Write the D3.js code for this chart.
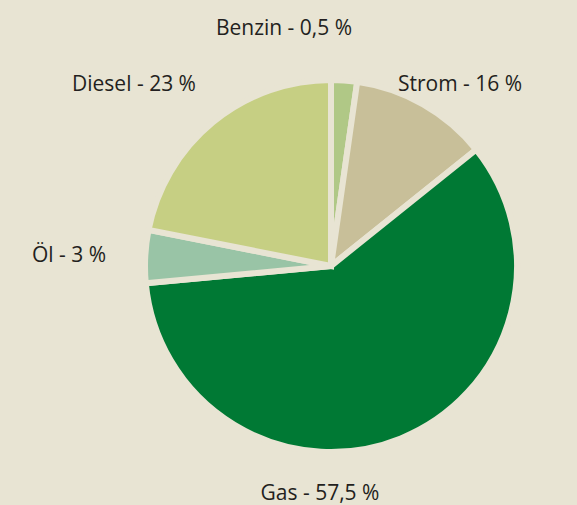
<!DOCTYPE html>
<html lang="de">
<head>
<meta charset="UTF-8">
<title>Energieträger</title>
<script src="https://cdn.jsdelivr.net/npm/d3@7/dist/d3.min.js"></script>
<style>
  html, body { margin: 0; padding: 0; background: #e8e4d3; }
</style>
</head>
<body>
<script>
    // Anteile wie gezeichnet (Grad-Anteile aus der Vorlage), Beschriftung separat
    const names = ["Benzin", "Strom", "Gas", "Öl", "Diesel"];
    const shares = [2.25, 12.0, 59.3, 4.6, 21.9];
    const labels = ["Benzin - 0,5 %", "Strom - 16 %", "Gas - 57,5 %", "Öl - 3 %", "Diesel - 23 %"];
    const colors = ["#b0c886", "#c8bf99", "#007934", "#99c4a6", "#c6cf83"];

    const width = 577, height = 505;
    const bg = "#e8e4d3";
    const cx = 331, cy = 266, radius = 183, gap = 6;
    // Position der Beschriftungen (Textmitte, Grundlinie)
    const labelPos = [[284, 35], [460, 91], [320, 500], [69, 262], [134, 91]];

    const svg = d3.select("body").append("svg")
        .attr("width", width)
        .attr("height", height)
        .style("display", "block")
        .style("font-family", "'Open Sans', sans-serif");

    svg.append("rect").attr("width", width).attr("height", height).attr("fill", bg);

    const pie = d3.pie().sort(null).value(d => d);
    // Kontur in Hintergrundfarbe = Spalt; Radius um halbe Konturbreite vergrößert
    const arc = d3.arc().innerRadius(0).outerRadius(radius + gap / 2);

    const g = svg.append("g").attr("transform", `translate(${cx},${cy})`);

    g.selectAll("path")
        .data(pie(shares))
        .join("path")
        .attr("d", arc)
        .attr("fill", (d, i) => colors[i])
        .attr("stroke", bg)
        .attr("stroke-width", gap)
        .attr("stroke-linejoin", "miter");

    svg.append("g")
        .attr("text-anchor", "middle")
        .attr("font-size", 21)
        .attr("fill", "#231f20")
        .selectAll("text")
        .data(labels)
        .join("text")
        .attr("x", (d, i) => labelPos[i][0])
        .attr("y", (d, i) => labelPos[i][1])
        .text(d => d);
</script>
</body>
</html>
